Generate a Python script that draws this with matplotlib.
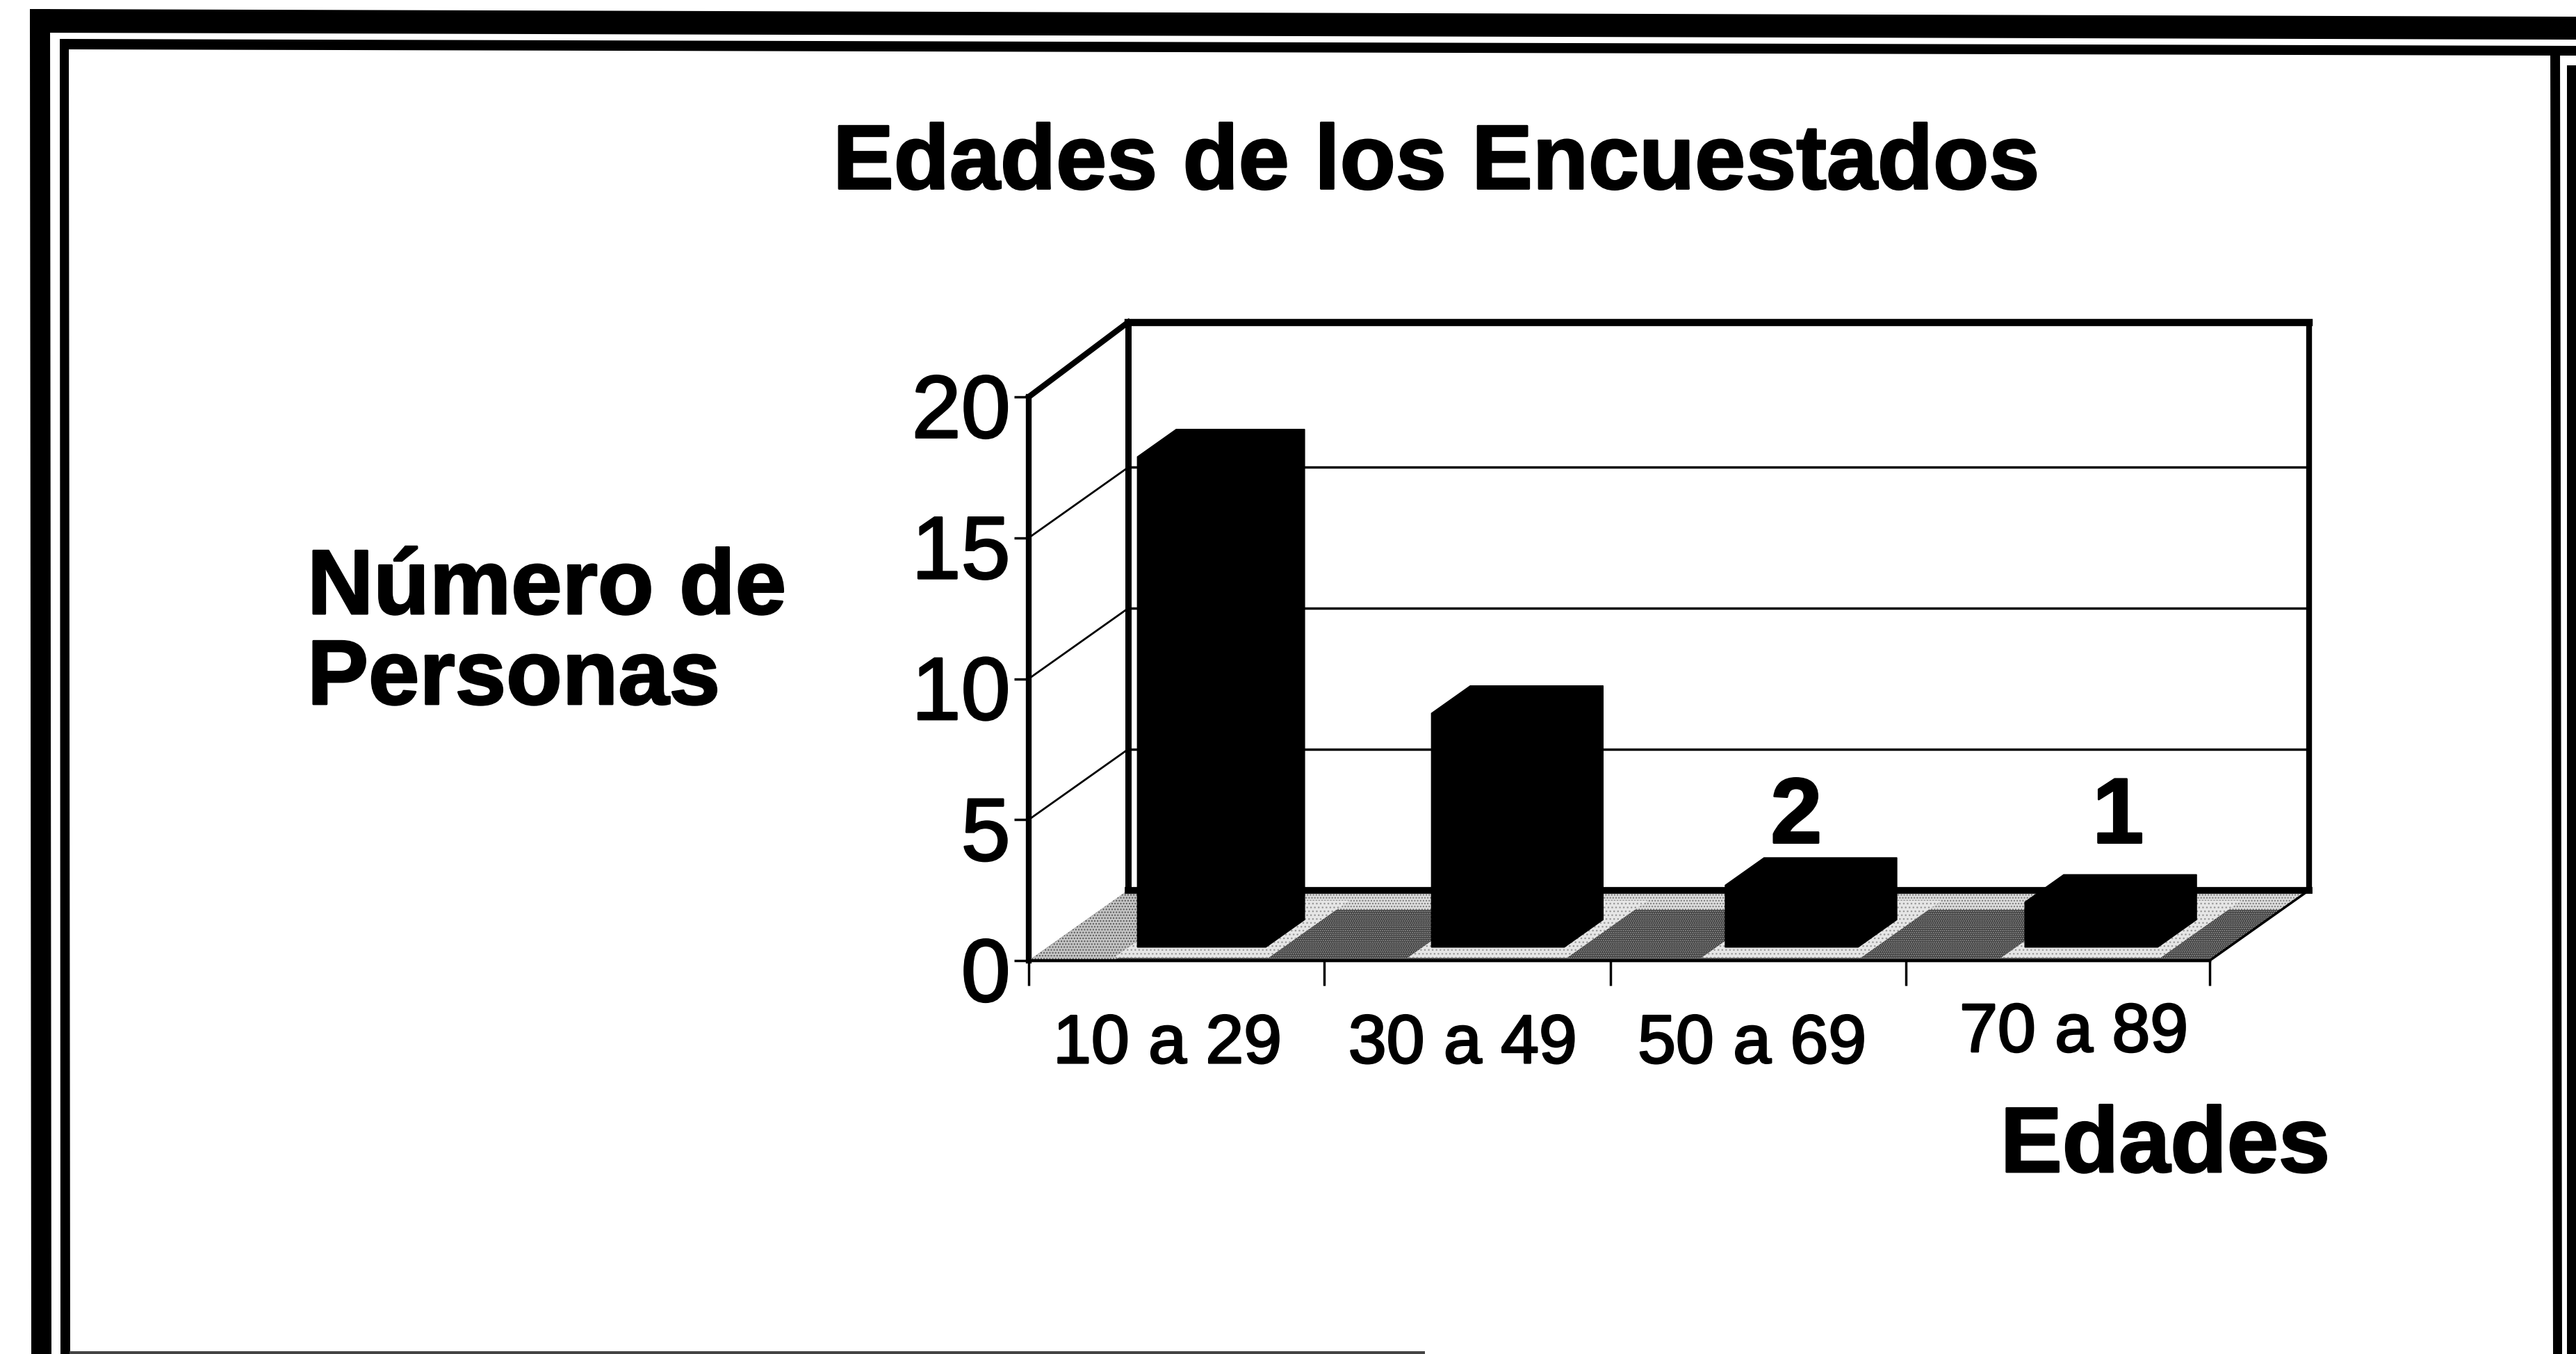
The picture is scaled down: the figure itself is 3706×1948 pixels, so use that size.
import matplotlib
matplotlib.use("Agg")
import matplotlib.pyplot as plt
import matplotlib.patheffects as pe
from matplotlib.patches import Polygon
from matplotlib.transforms import ScaledTranslation

W, H = 3706, 1949

categories = ["10 a 29", "30 a 49", "50 a 69", "70 a 89"]
# bar heights as drawn in the picture (the 3D effect lifts them a little over the counts)
heights = [17.4, 8.3, 2.2, 1.6]
data_labels = ["", "", "2", "1"]
y_ticks = [0, 5, 10, 15, 20]
x_ticks = [0, 1, 1.97, 2.97, 4]

plt.rcParams["font.family"] = ["Liberation Sans", "DejaVu Sans"]

# the scan makes all the type a bit heavier
heavy = [pe.withStroke(linewidth=2, foreground="black")]

fig = plt.figure(figsize=(W / 100, H / 100), dpi=100, facecolor="white")
ax = fig.add_axes([1480 / W, (H - 1383) / H, 1699 / W, 811 / H])
ax.set_xlim(0, 4)
ax.set_ylim(0, 20)
ax.patch.set_visible(False)
for s in ["top", "right"]:
    ax.spines[s].set_visible(False)
ax.spines["left"].set_linewidth(6)
ax.spines["bottom"].set_linewidth(2.5)

# depth of the 3D box, in data units
dx = 0.337
dy = 2.5
top = 20 + 2.65

# walls
ax.plot([dx, 4 + dx], [top, top], color="black", lw=7.5, clip_on=False, zorder=2)
ax.plot([dx, dx], [dy, top], color="black", lw=6.5, clip_on=False, zorder=2)
ax.plot([4 + dx, 4 + dx], [dy, top], color="black", lw=6, clip_on=False, zorder=2)
ax.plot([0, dx], [20, top], color="black", lw=6, clip_on=False, zorder=2)
for v in y_ticks[1:-1]:
    ax.plot([dx, 4 + dx], [v + dy, v + dy], color="black", lw=2.5, clip_on=False, zorder=2)
    ax.plot([0, dx], [v, v + dy], color="black", lw=2, clip_on=False, zorder=2)


def floor_poly(x0, x1, d0, d1, **kw):
    pts = [(x0 + d0 * dx, d0 * dy), (x1 + d0 * dx, d0 * dy),
           (x1 + d1 * dx, d1 * dy), (x0 + d1 * dx, d1 * dy)]
    p = Polygon(pts, closed=True, clip_on=False, lw=0, **kw)
    ax.add_patch(p)


# floor
floor_poly(0, 4, 0, 1, facecolor="#2e2e2e", edgecolor="#b0b0b0", hatch="......", zorder=3)
floor_poly(0, 4, 0.72, 1, facecolor="#dcdcdc", edgecolor="#777777", hatch="....", zorder=3.1)
floor_poly(0, 0.29, 0, 1, facecolor="#c4c4c4", edgecolor="#555555", hatch="....", zorder=3.1)

# light band round each bar foot
bar_left = [0.304, 1.30, 2.295, 3.31]
bar_w = [0.435, 0.45, 0.45, 0.45]
d_front = 0.19
d_back = 0.58
for x0, w in zip(bar_left, bar_w):
    floor_poly(x0 - 0.03, x0 + w + 0.06, 0.04, 0.85, facecolor="#e6e6e6", edgecolor="#999999", hatch="...", zorder=3.3)

ax.plot([0, 4], [0, 0], color="black", lw=3, clip_on=False, zorder=3.4)
ax.plot([4, 4 + dx], [0, dy], color="black", lw=2.5, clip_on=False, zorder=3.4)
ax.plot([dx, 4 + dx], [dy, dy], color="black", lw=7, clip_on=False, zorder=3.4)

# bars
for x0, w, h in zip(bar_left, bar_w, heights):
    x1 = x0 + w
    fx = d_front * dx
    fy = d_front * dy
    bx = d_back * dx
    by = d_back * dy
    pts = [(x0 + fx, fy), (x0 + fx, fy + h), (x0 + bx, by + h),
           (x1 + bx, by + h), (x1 + bx, by), (x1 + fx, fy)]
    ax.add_patch(Polygon(pts, closed=True, facecolor="black", edgecolor="black", lw=1, clip_on=False, zorder=4))

# ticks and labels
ax.set_yticks(y_ticks)
ax.set_yticklabels([str(v) for v in y_ticks], fontsize=92)
ax.tick_params(axis="y", length=15, width=2.5, pad=4)
shift = ScaledTranslation(0, -0.12, fig.dpi_scale_trans)
for lab in ax.get_yticklabels():
    lab.set_transform(lab.get_transform() + shift)
    lab.set_path_effects(heavy)
ax.set_xticks(x_ticks)
ax.set_xticklabels([])
ax.tick_params(axis="x", length=26, width=2.5)

cat_x = [0.47, 1.47, 2.45, 3.54]
cat_y = [-3.0, -3.0, -3.0, -2.6]
for x, y, c in zip(cat_x, cat_y, categories):
    ax.text(x, y, c, fontsize=71, ha="center", va="center", color="black", path_effects=heavy)

label_x = [0, 0, 2.6, 3.69]
label_y = [0, 0, 5.03, 5.03]
for x, y, t in zip(label_x, label_y, data_labels):
    if t:
        ax.text(x, y, t, fontsize=96, fontweight="bold", ha="center", va="center", zorder=5, path_effects=heavy)

# texts
fig.text(2066 / W, 1 - 238 / H, "Edades de los Encuestados", fontsize=94.5, fontweight="bold", ha="center", va="center", path_effects=heavy)
fig.text(442 / W, 1 - 884 / H, "Número de", fontsize=95, fontweight="bold", ha="left", va="baseline", path_effects=heavy)
fig.text(442 / W, 1 - 1014 / H, "Personas", fontsize=95, fontweight="bold", ha="left", va="baseline", path_effects=heavy)
fig.text(3115 / W, 1 - 1687 / H, "Edades", fontsize=96, fontweight="bold", ha="center", va="baseline", path_effects=heavy)


def frame_poly(pts, color="black"):
    fig.add_artist(Polygon([(x / W, 1 - y / H) for x, y in pts], closed=True, transform=fig.transFigure,
                           facecolor=color, edgecolor="none"))


# double frame of the scan, slightly tilted
frame_poly([(43, 14), (3706, 25), (3706, 58), (43, 48)])
frame_poly([(43, 14), (72, 14), (74, H), (45, H)])
frame_poly([(86, 57), (3706, 67), (3706, 81), (86, 72)])
frame_poly([(86, 57), (99, 57), (101, H), (87, H)])
frame_poly([(3669, 67), (3683, 67), (3686, H), (3673, H)])
frame_poly([(3693, 95), (3706, 95), (3706, H), (3693, H)])
frame_poly([(100, 1945), (2050, 1945), (2050, H), (100, H)], color="#444444")

fig.savefig("out.png", dpi=100)
